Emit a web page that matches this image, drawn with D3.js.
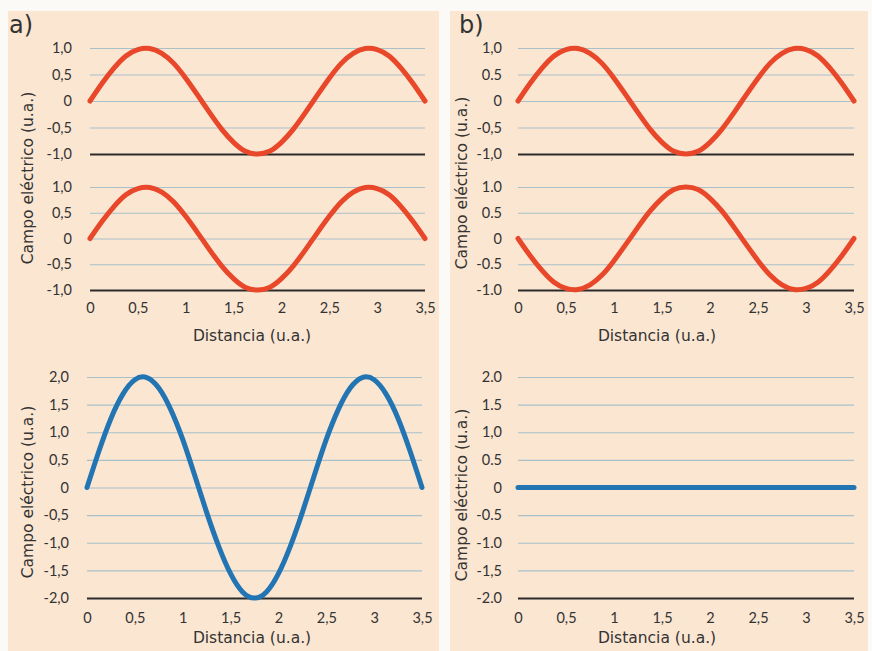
<!DOCTYPE html>
<html><head><meta charset="utf-8">
<script src="https://cdn.jsdelivr.net/npm/d3@7"></script>
<style>
body{margin:0;background:#fcfaf7;}
svg{display:block;}
text{font-family:"Lato","Open Sans",sans-serif;fill:#333;}
</style></head>
<body><svg id="c" width="872" height="651"></svg>
<script>
// ---- data ----
const distance = [0,0.125,0.25,0.375,0.5,0.625,0.75,0.875,1,1.125,1.25,1.375,1.5,1.625,1.75,1.875,2,2.125,2.25,2.375,2.5,2.625,2.75,2.875,3,3.125,3.25,3.375,3.5];
const waveA1 = [0,0.33,0.62,0.85,0.97,0.99,0.9,0.71,0.43,0.11,-0.22,-0.53,-0.78,-0.95,-1,-0.95,-0.78,-0.53,-0.22,0.11,0.43,0.71,0.9,0.99,0.97,0.85,0.62,0.33,0];
const waveA2 = [0,0.33,0.62,0.85,0.97,0.99,0.9,0.71,0.43,0.11,-0.22,-0.53,-0.78,-0.95,-1,-0.95,-0.78,-0.53,-0.22,0.11,0.43,0.71,0.9,0.99,0.97,0.85,0.62,0.33,0];
const sumA   = [0,0.66,1.25,1.69,1.95,1.99,1.8,1.41,0.87,0.22,-0.45,-1.06,-1.56,-1.89,-2,-1.89,-1.56,-1.06,-0.45,0.22,0.87,1.41,1.8,1.99,1.95,1.69,1.25,0.66,0];
const waveB1 = [0,0.33,0.62,0.85,0.97,0.99,0.9,0.71,0.43,0.11,-0.22,-0.53,-0.78,-0.95,-1,-0.95,-0.78,-0.53,-0.22,0.11,0.43,0.71,0.9,0.99,0.97,0.85,0.62,0.33,0];
const waveB2 = [0,-0.33,-0.62,-0.85,-0.97,-0.99,-0.9,-0.71,-0.43,-0.11,0.22,0.53,0.78,0.95,1,0.95,0.78,0.53,0.22,-0.11,-0.43,-0.71,-0.9,-0.99,-0.97,-0.85,-0.62,-0.33,0];
const sumB   = [0,0,0,0,0,0,0,0,0,0,0,0,0,0,0,0,0,0,0,0,0,0,0,0,0,0,0,0,0];

const xTicks = [0,0.5,1,1.5,2,2.5,3,3.5];
const xTickLabels = ["0","0,5","1","1,5","2","2,5","3","3,5"];
const yTicks1 = [1,0.5,0,-0.5,-1];
const yTicks2 = [2,1.5,1,0.5,0,-0.5,-1,-1.5,-2];
const yLabelsA1 = ["1,0","0,5","0","-0,5","-1,0"];
const yLabelsA2 = ["1,0","0,5","0","-0,5","-1,0"];
const yLabelsA3 = ["2,0","1,5","1,0","0,5","0","-0,5","-1,0","-1,5","-2,0"];
const yLabelsB1 = ["1,0","0.5","0","-0,5","-1,0"];
const yLabelsB2 = ["1.0","0.5","0","-0.5","-1.0"];
const yLabelsB3 = ["2.0","1.5","1,0","0.5","0","-0.5","-1.0","-1,5","-2.0"];
const panelLabels = ["a)","b)"];
const xTitle = "Distancia (u.a.)";
const yTitle = "Campo eléctrico (u.a.)";

const RED = "#e8472a", BLUE = "#2275b2";
const TICKFONT = "Lato, 'Open Sans', sans-serif";
const TITLEFONT = "'DejaVu Sans', Lato, sans-serif";

const svg = d3.select("#c");
// panels
svg.append("rect").attr("x",8).attr("y",11).attr("width",431).attr("height",640).attr("fill","#fbe6d2");
svg.append("rect").attr("x",450).attr("y",11).attr("width",418).attr("height",640).attr("fill","#fbe6d2");

const charts = [
  {xr:[90,425], yr:[154,48], dom:[-1,1], ticks:yTicks1, labels:yLabelsA1, vals:waveA1, color:RED, lab:72, xaxis:false},
  {xr:[90,425], yr:[290,187], dom:[-1,1], ticks:yTicks1, labels:yLabelsA2, vals:waveA2, color:RED, lab:72, xaxis:true, xl:313},
  {xr:[87,422], yr:[598,377], dom:[-2,2], ticks:yTicks2, labels:yLabelsA3, vals:sumA, color:BLUE, lab:69, xaxis:true, xl:623},
  {xr:[518,854], yr:[154,48], dom:[-1,1], ticks:yTicks1, labels:yLabelsB1, vals:waveB1, color:RED, lab:502, xaxis:false},
  {xr:[518,854], yr:[290,187], dom:[-1,1], ticks:yTicks1, labels:yLabelsB2, vals:waveB2, color:RED, lab:502, xaxis:true, xl:313},
  {xr:[518,854], yr:[598,377], dom:[-2,2], ticks:yTicks2, labels:yLabelsB3, vals:sumB, color:BLUE, lab:502, xaxis:true, xl:623},
];

charts.forEach(c => {
  const x = d3.scaleLinear().domain([0,3.5]).range(c.xr);
  const y = d3.scaleLinear().domain(c.dom).range(c.yr);
  const w = c.xr[1]-c.xr[0];
  const grid = svg.append("g").attr("transform",`translate(${c.xr[0]},0)`)
    .call(d3.axisLeft(y).tickValues(c.ticks).tickSize(-w).tickFormat(""));
  grid.select(".domain").remove();
  grid.selectAll(".tick line").attr("stroke",d => d===c.dom[0] ? "#2b2b2b" : "#a9c0c9")
    .attr("stroke-width",d => d===c.dom[0] ? 1.8 : 1.2);
  const ya = svg.append("g").attr("transform",`translate(${c.xr[0]},0)`)
    .call(d3.axisLeft(y).tickValues(c.ticks).tickSize(0).tickPadding(c.xr[0]-c.lab)
      .tickFormat((d,i)=>c.labels[i]));
  ya.select(".domain").remove();
  ya.selectAll("text").style("font-size","14.5px").attr("fill","#333").style("font-family",TICKFONT);
  if (c.xaxis) {
    const xa = svg.append("g").attr("transform",`translate(0,${c.yr[0]})`)
      .call(d3.axisBottom(x).tickValues(xTicks).tickSize(0).tickFormat((d,i)=>xTickLabels[i]));
    xa.select(".domain").remove();
    xa.selectAll("text").attr("dy",null).attr("y",c.xl-c.yr[0]).style("font-size","14.5px")
      .attr("fill","#333").style("font-family",TICKFONT);
  }
  const line = d3.line().x((d,i)=>x(distance[i])).y(d=>y(d)).curve(d3.curveNatural);
  svg.append("path").datum(c.vals).attr("d",line).attr("fill","none")
    .attr("stroke",c.color).attr("stroke-width",5).attr("stroke-linecap","round");
});

// titles
const xTitles = [[252,341],[657,341],[252,643],[657,643]];
xTitles.forEach(p => svg.append("text").attr("x",p[0]).attr("y",p[1]).attr("text-anchor","middle")
  .style("font-size","15.5px").style("font-family",TITLEFONT).text(xTitle));
const yTitles = [[33,178],[33,492],[467,183],[467,495]];
yTitles.forEach(p => svg.append("text").attr("transform",`translate(${p[0]},${p[1]}) rotate(-90)`)
  .attr("text-anchor","middle").style("font-size","15.5px").style("font-family",TITLEFONT).text(yTitle));
svg.append("text").attr("x",9).attr("y",33).style("font-size","24px").style("font-family",TITLEFONT).text(panelLabels[0]);
svg.append("text").attr("x",459).attr("y",33).style("font-size","24px").style("font-family",TITLEFONT).text(panelLabels[1]);
</script></body></html>
